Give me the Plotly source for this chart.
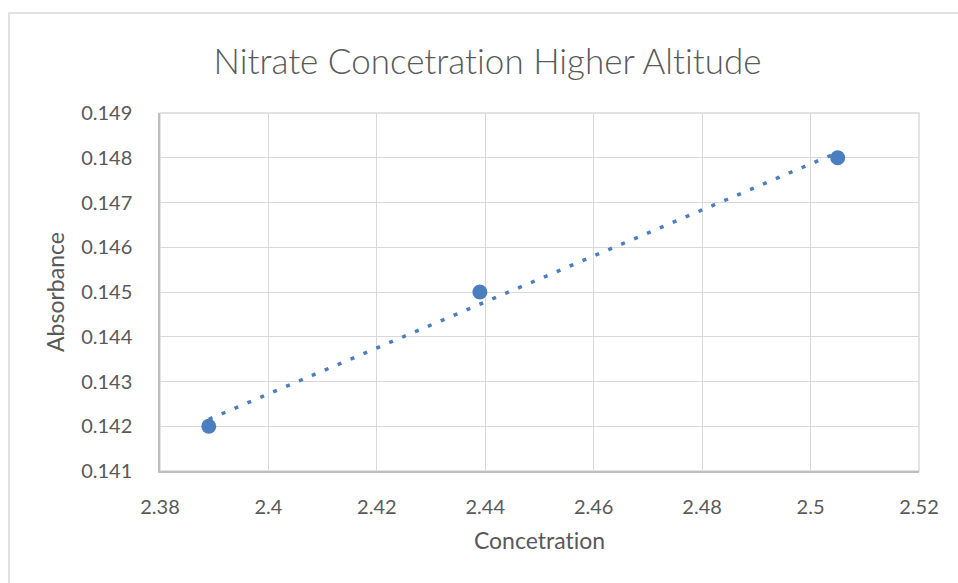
import numpy as np
import plotly.graph_objects as go

concentration = [2.389, 2.439, 2.505]
absorbance = [0.142, 0.145, 0.148]

x_ticks = [2.38, 2.40, 2.42, 2.44, 2.46, 2.48, 2.50, 2.52]
x_tick_labels = ["2.38", "2.4", "2.42", "2.44", "2.46", "2.48", "2.5", "2.52"]
y_ticks = [0.141, 0.142, 0.143, 0.144, 0.145, 0.146, 0.147, 0.148, 0.149]
y_tick_labels = ["0.141", "0.142", "0.143", "0.144", "0.145", "0.146", "0.147", "0.148", "0.149"]

title_text = "Nitrate Concetration Higher Altitude"
x_title = "Concetration"
y_title = "Absorbance"

# Linear trendline computed from data
slope, intercept = np.polyfit(concentration, absorbance, 1)
trend_x = [min(concentration), max(concentration)]
trend_y = [slope * v + intercept for v in trend_x]

blue = "#4A7EBF"
text_col = "#595959"
font_fam = "Lato, sans-serif"

fig = go.Figure()
fig.add_trace(go.Scatter(
    x=trend_x, y=trend_y, mode="lines",
    line=dict(color=blue, width=3.5, dash="4px,10px"),
    hoverinfo="skip", showlegend=False,
))
fig.add_trace(go.Scatter(
    x=concentration, y=absorbance, mode="markers",
    marker=dict(color=blue, size=15),
    showlegend=False,
))

W, H = 958, 583
l, r, t, b = 160, 39, 113, 112
pw, ph = W - l - r, H - t - b

fig.update_layout(
    width=W, height=H,
    margin=dict(l=l, r=r, t=t, b=b),
    paper_bgcolor="white", plot_bgcolor="white",
    font=dict(family=font_fam, color=text_col, size=20),
    title=dict(text=title_text, x=487.5 / W, xref="container", xanchor="center",
               y=1 - 62 / H, yref="container", yanchor="middle",
               font=dict(size=35, color=text_col, family=font_fam, weight=300)),
    xaxis=dict(
        range=[2.38, 2.52], tickvals=x_ticks, ticktext=x_tick_labels,
        showgrid=True, gridcolor="#D9D9D9", gridwidth=1.4,
        showline=True, linecolor="#BFBFBF", linewidth=1.5,
        zeroline=False, ticks="outside", ticklen=17, tickcolor="rgba(0,0,0,0)",
        tickfont=dict(size=20, color=text_col),
        title=dict(text=x_title, font=dict(size=23, color=text_col), standoff=16),
    ),
    yaxis=dict(
        range=[0.141, 0.149], tickvals=y_ticks, ticktext=y_tick_labels,
        showgrid=True, gridcolor="#D9D9D9", gridwidth=1.4,
        showline=True, linecolor="#BFBFBF", linewidth=1.5,
        zeroline=False, ticks="outside", ticklen=22, tickcolor="rgba(0,0,0,0)",
        tickfont=dict(size=20, color=text_col),
        title=dict(text=y_title, font=dict(size=23, color=text_col), standoff=10),
    ),
    shapes=[
        dict(type="rect", xref="paper", yref="paper",
             x0=(9 - l) / pw, x1=(W + 20 - l) / pw,
             y0=-(b + 20) / ph, y1=1 + (t - 13) / ph,
             line=dict(color="#D9D9D9", width=1.5), fillcolor="rgba(0,0,0,0)",
             layer="below"),
        dict(type="rect", xref="paper", yref="paper",
             x0=0, x1=1, y0=0, y1=1,
             line=dict(color="#D9D9D9", width=1.4), fillcolor="rgba(0,0,0,0)",
             layer="below"),
    ],
)

post = (
    "document.body.style.margin='0';"
    "document.querySelectorAll('text').forEach(function(t){"
    "t.style.fontVariantLigatures='none';t.style.fontFeatureSettings='\"liga\" 0, \"clig\" 0';});"
)

fig.write_html("out.html", post_script=post, config={"displayModeBar": False})
